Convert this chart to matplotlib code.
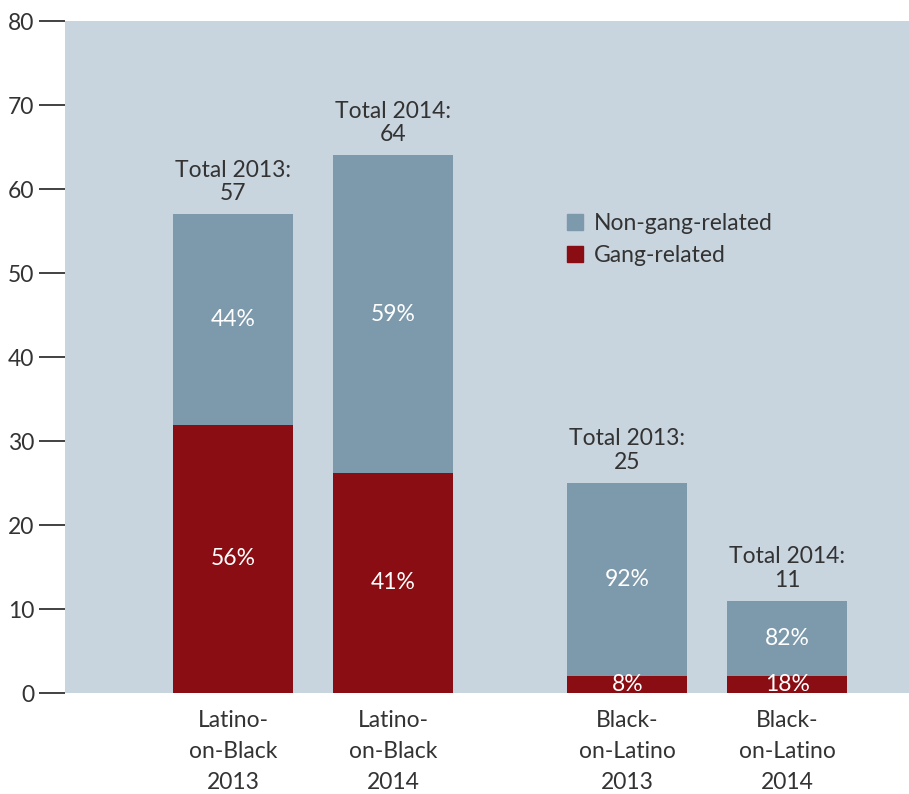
import matplotlib.pyplot as plt
from matplotlib.patches import Patch

plt.rcParams['font.family'] = ['Lato', 'DejaVu Sans']

# crime counts by direction and year
categories = ['Latino-\non-Black\n2013', 'Latino-\non-Black\n2014',
              'Black-\non-Latino\n2013', 'Black-\non-Latino\n2014']
totals = [57, 64, 25, 11]
total_labels = ['Total 2013:', 'Total 2014:', 'Total 2013:', 'Total 2014:']
gang_pct = [56, 41, 8, 18]
non_gang_pct = [44, 59, 92, 82]

x_pos = [0, 1, 2.4625, 3.4625]

bg_color = '#c8d4de'
non_gang_color = '#7d99ac'
gang_color = '#890d12'
text_color = '#333333'

gang = [t * p / 100 for t, p in zip(totals, gang_pct)]
non_gang = [t - g for t, g in zip(totals, gang)]

fig = plt.figure(figsize=(9.09, 7.94), dpi=100)
ax = fig.add_axes([0.0715, 0.1272, 0.9285, 0.8463])
ax.set_facecolor(bg_color)

width = 0.75
ax.bar(x_pos, gang, width, color=gang_color, zorder=2)
ax.bar(x_pos, non_gang, width, bottom=gang, color=non_gang_color, zorder=2)

fs = 16.5
for x, g, n, gp, ngp, t, tl in zip(x_pos, gang, non_gang, gang_pct, non_gang_pct, totals, total_labels):
    ax.text(x, g / 2, '%d%%' % gp, ha='center', va='center', color='white', fontsize=fs, zorder=3)
    ax.text(x, g + n / 2, '%d%%' % ngp, ha='center', va='center', color='white', fontsize=fs, zorder=3)
    ax.text(x, t + 1.2, tl + '\n' + str(t), ha='center', va='bottom', color=text_color,
            fontsize=fs, linespacing=1.15)

ax.set_xlim(-1.05, 4.2225)
ax.set_ylim(0, 80)
ax.set_yticks(range(0, 81, 10))
ax.set_xticks(x_pos)
ax.set_xticklabels(categories, fontsize=fs, color=text_color, linespacing=1.6)
ax.tick_params(axis='x', length=0, pad=12)
ax.tick_params(axis='y', length=19, width=1.3, color=text_color, labelsize=fs,
               labelcolor=text_color, pad=3)
for s in ax.spines.values():
    s.set_visible(False)

handles = [Patch(color=non_gang_color, label='Non-gang-related'),
           Patch(color=gang_color, label='Gang-related')]
ax.legend(handles=handles, loc='upper left', bbox_to_anchor=(0.57, 0.745), frameon=False,
          fontsize=fs, handlelength=0.7, handleheight=0.7, handletextpad=0.5,
          labelspacing=0.5, labelcolor=text_color)

fig.savefig('out.png', dpi=100)
